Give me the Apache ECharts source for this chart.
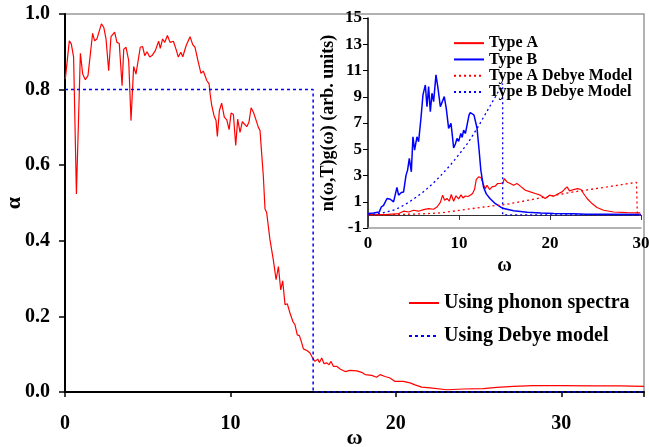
<!DOCTYPE html>
<html><head><meta charset="utf-8">
<script src="https://cdn.jsdelivr.net/npm/echarts@6/dist/echarts.min.js"></script>
<style>html,body{margin:0;padding:0;background:#fff}#c{width:649px;height:447px}</style>
</head><body><div id="c"></div>
<script>
// Main chart: alpha vs omega
const phononW = [0.02,0.13,0.26,0.38,0.52,0.69,0.93,1.07,1.23,1.39,1.67,1.79,1.93,2.2,2.34,2.48,2.64,2.78,3.0,3.14,3.28,3.45,3.55,3.69,3.85,3.99,4.15,4.29,4.55,4.69,4.82,4.96,5.12,5.26,5.46,5.66,5.76,5.9,6.03,6.19,6.35,6.55,6.71,6.85,7.0,7.12,7.32,7.56,7.72,7.86,8.06,8.22,8.36,8.57,8.71,8.77,8.87,9.01,9.13,9.21,9.33,9.47,9.63,9.78,9.92,10.04,10.18,10.32,10.44,10.58,10.72,10.84,10.99,11.12,11.25,11.39,11.53,11.69,11.79,11.89,11.99,12.09,12.19,12.39,12.59,12.76,12.9,13.04,13.16,13.3,13.44,13.6,13.77,13.9,14.04,14.17,14.31,14.41,14.51,14.65,14.81,14.97,15.11,15.28,15.38,15.52,15.66,15.82,15.96,16.08,16.22,16.42,16.63,16.93,17.23,17.64,17.94,18.14,18.54,18.84,19.04,19.35,19.65,19.95,20.05,20.45,20.86,21.16,21.56,22.07,23.08,24.08,25.29,26.1,27.1,28.3,29.93,31.94,33.55,35.0];
const phononA = [0.828,0.833,0.929,0.921,0.886,0.524,0.896,0.841,0.826,0.837,0.949,0.929,0.934,0.974,0.965,0.934,0.85,0.94,0.952,0.925,0.922,0.81,0.907,0.912,0.877,0.718,0.861,0.841,0.912,0.914,0.89,0.9,0.886,0.89,0.903,0.928,0.909,0.934,0.925,0.943,0.925,0.928,0.907,0.886,0.899,0.887,0.916,0.94,0.919,0.912,0.872,0.843,0.849,0.824,0.815,0.789,0.758,0.731,0.718,0.676,0.744,0.764,0.727,0.72,0.694,0.738,0.734,0.652,0.722,0.687,0.715,0.718,0.702,0.714,0.752,0.74,0.722,0.7,0.692,0.63,0.57,0.484,0.475,0.403,0.35,0.297,0.332,0.27,0.294,0.231,0.233,0.209,0.187,0.178,0.151,0.149,0.13,0.114,0.119,0.109,0.103,0.09,0.081,0.087,0.078,0.09,0.075,0.077,0.072,0.081,0.068,0.068,0.061,0.054,0.057,0.056,0.052,0.046,0.044,0.039,0.046,0.041,0.037,0.028,0.033,0.028,0.024,0.019,0.013,0.011,0.006,0.008,0.009,0.012,0.015,0.017,0.017,0.016,0.016,0.015];
const debyeW = [0, 15, 15, 35];
const debyeA = [0.8, 0.8, 0, 0];

// Inset: n(w,T)g(w)
const typeAW = [0,1.9,3.37,3.91,4.47,5.01,5.56,6.11,6.66,7.21,7.58,7.95,8.2,8.42,8.68,8.93,9.15,9.41,9.67,9.96,10.22,10.44,10.69,10.99,11.24,11.49,11.71,11.9,12.16,12.34,12.42,12.64,12.89,13.08,13.36,13.63,13.99,14.24,14.54,14.84,14.98,15.27,15.64,16.0,16.37,16.74,17.29,17.84,18.38,18.93,19.48,19.96,20.4,20.95,21.32,21.57,21.87,22.15,22.6,23.03,23.41,23.69,24.07,24.62,25.16,25.89,26.99,28.46,29.92];
const typeAV = [0.02,0.02,0.1,0.28,0.22,0.35,0.28,0.4,0.48,0.43,0.6,0.95,1.5,1.12,1.25,1.04,1.55,1.04,1.45,1.22,1.52,1.29,1.44,1.4,1.5,1.63,1.95,2.7,2.9,2.95,2.85,2.39,2.0,2.26,1.93,2.13,2.19,2.39,2.39,2.44,2.77,2.51,2.39,2.26,2.39,2.19,1.88,1.75,1.63,1.5,1.25,1.5,1.42,1.63,1.75,1.93,2.13,1.83,1.93,2.0,1.93,1.63,1.25,0.86,0.56,0.35,0.22,0.17,0.15];
const typeBW = [0.0,0.62,1.24,1.46,1.71,2.09,2.45,2.81,3.18,3.36,3.66,3.91,4.18,4.35,4.54,4.76,4.94,5.12,5.38,5.56,5.82,6.04,6.3,6.48,6.66,6.85,7.03,7.21,7.47,7.69,7.95,8.13,8.38,8.6,8.86,9.12,9.3,9.41,9.6,9.78,9.96,10.2,10.35,10.51,10.7,10.9,11.1,11.24,11.45,11.65,11.85,11.98,12.2,12.4,12.7,13.0,13.4,14.0,14.8,16.0,17.5,19.0,20.4,22.6,24.0,26.3,30.0];
const typeBV = [0.1,0.15,0.22,0.6,0.73,1.25,1.19,0.99,2.09,1.5,1.7,1.75,3.03,3.41,4.3,3.28,5.95,4.94,5.95,5.57,7.36,9.14,9.9,8.24,9.77,7.86,9.27,8.63,10.67,9.65,8.24,8.12,9.01,8.12,6.59,6.98,5.83,5.1,5.4,5.83,5.6,6.2,5.9,6.46,6.2,6.9,7.6,7.8,7.65,7.6,7.0,6.6,5.0,3.4,2.1,1.6,1.25,0.85,0.5,0.32,0.2,0.14,0.1,0.08,0.05,0.04,0.02];
const debyeAW = [0,2,4,6,8,10,12.7,15.27,18.93,22.6,26.26,29.5,29.6,30];
const debyeAV = [0,0.01,0.04,0.08,0.15,0.34,0.6,0.81,1.29,1.75,2.13,2.48,0,0];
const debyeBW = [0,1.5,3,4,5,6,7,8,9,10,11,12,13,14,14.8,14.8,30];
const debyeBV = [0,0.12,0.4,0.75,1.2,1.7,2.3,3.0,3.75,4.6,5.5,6.6,7.8,9.0,10.0,0,0];

const mainXTicks = [0, 10, 20, 30];
const zip = (a, b) => a.map((v, i) => [v, b[i]]);
const F = 'Liberation Serif';
const RED = '#ff0000', BLUE = '#0000ff';
const bold = (s) => ({fontFamily: F, fontWeight: 'bold', fontSize: s, color: '#000'});

const chart = echarts.init(document.getElementById('c'), null, {renderer: 'canvas'});
chart.setOption({
  animation: false,
  backgroundColor: '#fff',
  grid: [
    {left: 65, right: 5, top: 14, bottom: 55, containLabel: false, outerBoundsMode: 'none',
     show: true, borderColor: '#999', borderWidth: 1.5},
    {left: 368, right: 8, top: 18, bottom: 219, containLabel: false, outerBoundsMode: 'none'}
  ],
  xAxis: [
    {gridIndex: 0, type: 'value', min: 0, max: 35, interval: 10,
     name: 'ω', nameLocation: 'middle', nameGap: 35, nameMoveOverlap: false, nameTextStyle: bold(22),
     axisLine: {show: true, lineStyle: {color: '#000', width: 2}},
     axisTick: {show: true, length: 5, lineStyle: {color: '#000', width: 1.5}},
     axisLabel: Object.assign({margin: 22, formatter: v => mainXTicks.includes(v) ? String(v) : ''}, bold(20)),
     splitLine: {show: false}},
    {gridIndex: 1, type: 'value', min: 0, max: 30, interval: 10,
     name: 'ω', nameLocation: 'middle', nameGap: 28, nameMoveOverlap: false, nameTextStyle: bold(20),
     axisLine: {show: true, onZero: false, lineStyle: {color: '#999', width: 1.5}},
     axisTick: {show: false},
     axisLabel: Object.assign({margin: 7}, bold(17)),
     splitLine: {show: false}},
    {gridIndex: 1, type: 'value', min: 0, max: 30, interval: 10, position: 'bottom',
     axisLine: {show: true, onZero: true, lineStyle: {color: '#333', width: 1}},
     axisTick: {show: true, length: 5, lineStyle: {color: '#333', width: 1}},
     axisLabel: {show: false},
     splitLine: {show: false}}
  ],
  yAxis: [
    {gridIndex: 0, type: 'value', min: 0, max: 1, interval: 0.2,
     name: 'α', nameLocation: 'middle', nameGap: 40, nameRotate: 90, nameMoveOverlap: false, nameTextStyle: bold(22),
     axisLine: {show: true, lineStyle: {color: '#000', width: 2}},
     axisTick: {show: true, length: 6, lineStyle: {color: '#000', width: 1.5}},
     axisLabel: Object.assign({margin: 15, formatter: v => v.toFixed(1)}, bold(20)),
     splitLine: {show: false}},
    {gridIndex: 1, type: 'value', min: -1, max: 15, interval: 2,
     name: 'n(ω,T)g(ω) (arb. units)', nameLocation: 'middle', nameGap: 31, nameRotate: 90, nameMoveOverlap: false, nameTextStyle: bold(18),
     axisLine: {show: true, lineStyle: {color: '#000', width: 1.5}},
     axisTick: {show: true, length: 5, lineStyle: {color: '#000', width: 1}},
     axisLabel: Object.assign({margin: 6}, bold(17)),
     splitLine: {show: false}}
  ],
  legend: [
    {data: ['Using phonon spectra', 'Using Debye model'], orient: 'vertical', left: 408, top: 293, padding: 0,
     itemWidth: 30, itemHeight: 14, itemGap: 13, itemStyle: {opacity: 0},
     textStyle: Object.assign({lineHeight: 20}, bold(20))},
    {data: ['Type A', 'Type B', 'Type A Debye Model', 'Type B Debye Model'], orient: 'vertical', left: 453, top: 35, padding: 0,
     itemWidth: 30, itemHeight: 12, itemGap: 0, itemStyle: {opacity: 0},
     textStyle: Object.assign({lineHeight: 16.3}, bold(16))}
  ],
  series: [
    {name: 'Using phonon spectra', type: 'line', xAxisIndex: 0, yAxisIndex: 0, data: zip(phononW, phononA),
     symbol: 'none', color: RED, lineStyle: {color: RED, width: 1.2}},
    {name: 'Using Debye model', type: 'line', xAxisIndex: 0, yAxisIndex: 0, data: zip(debyeW, debyeA),
     symbol: 'none', color: BLUE, lineStyle: {color: BLUE, width: 1.5, type: [3, 3]}},
    {name: 'Type A', type: 'line', xAxisIndex: 1, yAxisIndex: 1, data: zip(typeAW, typeAV),
     symbol: 'none', color: RED, lineStyle: {color: RED, width: 1.2}},
    {name: 'Type B', type: 'line', xAxisIndex: 1, yAxisIndex: 1, data: zip(typeBW, typeBV),
     symbol: 'none', color: BLUE, lineStyle: {color: BLUE, width: 1.5}},
    {name: 'Type A Debye Model', type: 'line', xAxisIndex: 1, yAxisIndex: 1, data: zip(debyeAW, debyeAV),
     symbol: 'none', color: RED, lineStyle: {color: RED, width: 1.3, type: [2, 3]}},
    {name: 'Type B Debye Model', type: 'line', xAxisIndex: 1, yAxisIndex: 1, data: zip(debyeBW, debyeBV),
     symbol: 'none', color: BLUE, lineStyle: {color: BLUE, width: 1.3, type: [2, 3]}}
  ]
});
</script></body></html>
